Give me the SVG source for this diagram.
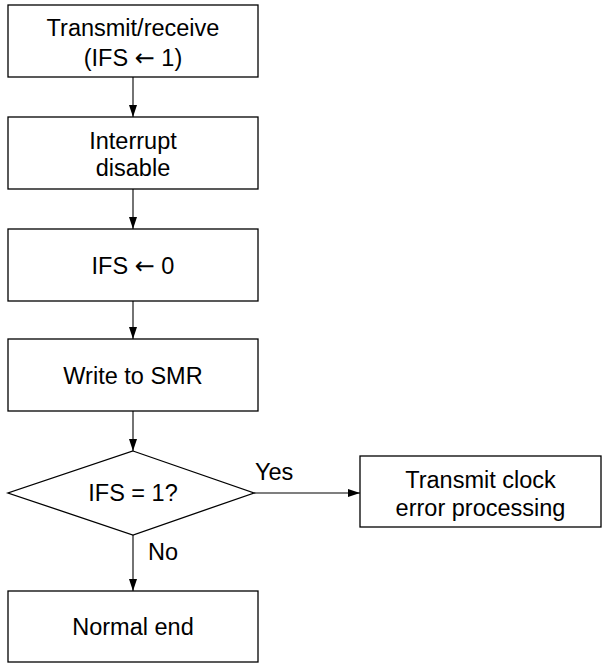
<svg xmlns="http://www.w3.org/2000/svg" width="602" height="664" viewBox="0 0 602 664">
<style>
.box{fill:#fff;stroke:#000;stroke-width:1.3}
.t{font-family:"Liberation Sans",Arial,sans-serif;font-size:23.5px;fill:#000;text-anchor:middle}
.l{font-family:"Liberation Sans",Arial,sans-serif;font-size:23.5px;fill:#000}
.ar{font-family:"DejaVu Sans",sans-serif;font-size:24px}
.c{stroke:#000;stroke-width:1.1;fill:none;marker-end:url(#ah)}
</style>
<defs>
<marker id="ah" markerWidth="12" markerHeight="8" refX="12" refY="4" orient="auto" markerUnits="userSpaceOnUse">
<path d="M0,0 L12,4 L0,8 Z" fill="#000"/>
</marker>
</defs>
<rect width="602" height="664" fill="#fff"/>
<g id="connectors">
<line class="c" x1="133" y1="77" x2="133" y2="117"/>
<line class="c" x1="133" y1="189" x2="133" y2="229"/>
<line class="c" x1="133" y1="301" x2="133" y2="339"/>
<line class="c" x1="133" y1="411" x2="133" y2="451"/>
<line class="c" x1="133" y1="535" x2="133" y2="591"/>
<line class="c" x1="254" y1="493" x2="360" y2="493"/>
<text class="l" x="255" y="480">Yes</text>
<text class="l" x="148" y="560">No</text>
</g>
<g id="n1">
<rect class="box" x="8" y="5" width="250" height="72"/>
<text class="t" x="133" y="36">Transmit/receive</text>
<text class="t" x="133" y="66">(IFS <tspan class="ar">←</tspan> 1)</text>
</g>
<g id="n2">
<rect class="box" x="8" y="117" width="250" height="72"/>
<text class="t" x="133" y="149">Interrupt</text>
<text class="t" x="133" y="176">disable</text>
</g>
<g id="n3">
<rect class="box" x="8" y="229" width="250" height="72"/>
<text class="t" x="133" y="274">IFS <tspan class="ar">←</tspan> 0</text>
</g>
<g id="n4">
<rect class="box" x="8" y="339" width="250" height="72"/>
<text class="t" x="133" y="384">Write to SMR</text>
</g>
<g id="n5">
<polygon class="box" points="133,451 254,493 133,535 8,493"/>
<text class="t" x="133" y="501">IFS = 1?</text>
</g>
<g id="n6">
<rect class="box" x="360" y="456" width="241" height="71"/>
<text class="t" x="480.5" y="488">Transmit clock</text>
<text class="t" x="480.5" y="516">error processing</text>
</g>
<g id="n7">
<rect class="box" x="8" y="591" width="250" height="71"/>
<text class="t" x="133" y="635">Normal end</text>
</g>
</svg>
